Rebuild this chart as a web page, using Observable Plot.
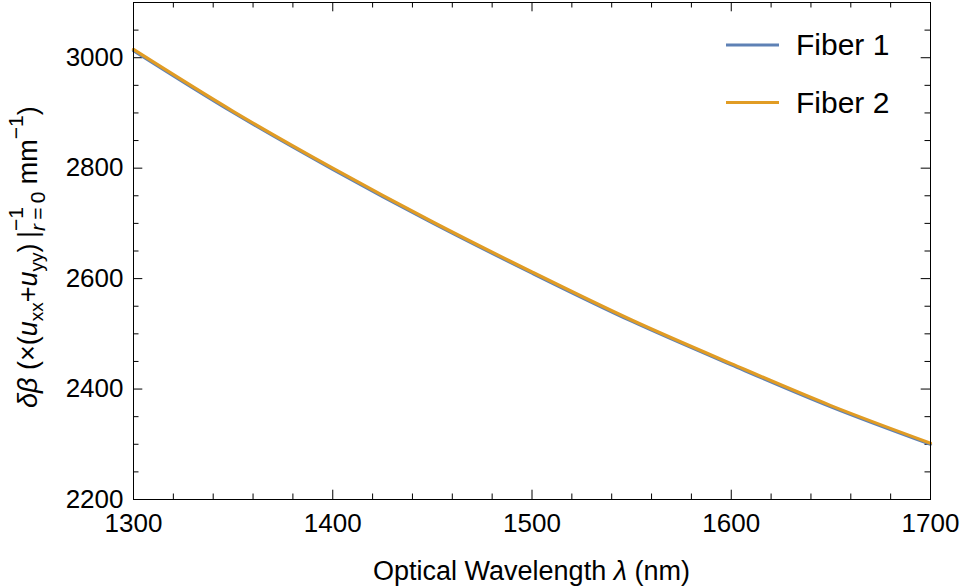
<!DOCTYPE html>
<html><head><meta charset="utf-8">
<script src="https://cdn.jsdelivr.net/npm/d3@7"></script>
<script src="https://cdn.jsdelivr.net/npm/@observablehq/plot@0.6"></script>
<style>body{margin:0;background:#fff;} svg{display:block;}</style>
</head><body><div id="chart"></div>
<script>
// ---- data ----
const wavelengths = [1300, 1350, 1400, 1450, 1500, 1550, 1600, 1650, 1700];
const fiber1 = [3013, 2901, 2798, 2701, 2610, 2523, 2444, 2368, 2300];
const fiber2 = [3015, 2903, 2800, 2703, 2612, 2525, 2446, 2370, 2302];
const seriesNames = ["Fiber 1", "Fiber 2"];
const seriesColors = ["#5e81b5", "#e19c24"];
const xTicks = [1300, 1400, 1500, 1600, 1700];
const xMinorTicks = [1320, 1340, 1360, 1380, 1420, 1440, 1460, 1480, 1520, 1540, 1560, 1580, 1620, 1640, 1660, 1680];
const yTicks = [2200, 2400, 2600, 2800, 3000];
const yMinorTicks = [2250, 2300, 2350, 2450, 2500, 2550, 2650, 2700, 2750, 2850, 2900, 2950, 3050];
const xDomain = [1300, 1700];
const yDomain = [2200, 3100];

const rows = [];
[fiber1, fiber2].forEach((vals, s) => vals.forEach((v, i) => rows.push({wl: wavelengths[i], v, series: seriesNames[s]})));

const W = 960, H = 588, mL = 133, mR = 30, mT = 2, mB = 89;
const fw = W - mL - mR, fh = H - mT - mB;
const major = 9.3, minor = 5.5;
const font = "Liberation Sans, Arial, sans-serif";

const plot = Plot.plot({
  width: W, height: H,
  marginLeft: mL, marginRight: mR, marginTop: mT, marginBottom: mB,
  style: {fontFamily: font, background: "#fff", color: "#000"},
  x: {domain: xDomain},
  y: {domain: yDomain},
  color: {domain: seriesNames, range: seriesColors},
  marks: [
    Plot.axisX({ticks: xTicks, tickSize: 0, tickPadding: 14, fontSize: 26, label: null, tickFormat: d => String(d)}),
    Plot.axisY({ticks: yTicks, tickSize: 0, tickPadding: 10, fontSize: 26, label: null, tickFormat: d => String(d)}),
    // inward frame ticks on all four sides
    Plot.tickX(xTicks, {x: d => d, insetTop: fh - major, stroke: "#000", strokeWidth: 1}),
    Plot.tickX(xTicks, {x: d => d, insetBottom: fh - major, stroke: "#000", strokeWidth: 1}),
    Plot.tickX(xMinorTicks, {x: d => d, insetTop: fh - minor, stroke: "#000", strokeWidth: 1}),
    Plot.tickX(xMinorTicks, {x: d => d, insetBottom: fh - minor, stroke: "#000", strokeWidth: 1}),
    Plot.tickY(yTicks, {y: d => d, insetRight: fw - major, stroke: "#000", strokeWidth: 1}),
    Plot.tickY(yTicks, {y: d => d, insetLeft: fw - major, stroke: "#000", strokeWidth: 1}),
    Plot.tickY(yMinorTicks, {y: d => d, insetRight: fw - minor, stroke: "#000", strokeWidth: 1}),
    Plot.tickY(yMinorTicks, {y: d => d, insetLeft: fw - minor, stroke: "#000", strokeWidth: 1}),
    Plot.line(rows, {x: "wl", y: "v", z: "series", stroke: "series", strokeWidth: 3.2, curve: "catmull-rom"}),
    Plot.frame({stroke: "#000", strokeWidth: 1})
  ]
});

document.getElementById("chart").appendChild(plot);
const svg = d3.select(plot);

// x label
const xl = svg.append("text")
  .attr("x", mL + fw / 2).attr("y", 580)
  .attr("text-anchor", "middle")
  .attr("font-family", font).attr("font-size", 27).attr("fill", "#000");
xl.append("tspan").text("Optical Wavelength ");
xl.append("tspan").attr("font-style", "italic").text("λ");
xl.append("tspan").text(" (nm)");

// y label
const yl = svg.append("text")
  .attr("transform", "translate(37,250) rotate(-90)")
  .attr("x", -158).attr("y", 0)
  .attr("text-anchor", "start")
  .attr("font-family", font).attr("font-size", 27).attr("fill", "#000");
yl.append("tspan").attr("font-style", "italic").text("δβ");
yl.append("tspan").text(" (×(");
yl.append("tspan").attr("font-style", "italic").text("u");
yl.append("tspan").attr("font-size", 19).attr("dy", 6).text("xx");
yl.append("tspan").attr("dy", -6).text("+");
yl.append("tspan").attr("font-style", "italic").text("u");
yl.append("tspan").attr("font-size", 19).attr("dy", 6).text("yy");
yl.append("tspan").attr("dy", -6).text(")\u2009|");
const sup1 = yl.append("tspan").attr("font-size", 21).attr("dy", -14).text("−1");
const supLen = sup1.node().getComputedTextLength();
const sub1 = yl.append("tspan").attr("font-size", 21).attr("dy", 22).attr("dx", -supLen);
sub1.append("tspan").attr("font-style", "italic").text("r");
sub1.append("tspan").text("\u2009=\u20090");
yl.append("tspan").attr("dy", -8).text(" mm");
yl.append("tspan").attr("font-size", 21).attr("dy", -14).text("−1");
yl.append("tspan").attr("dy", 14).text(")");

// legend
const lg = svg.append("g");
seriesNames.forEach((name, i) => {
  const y = 45 + i * 57.5;
  lg.append("line").attr("x1", 726).attr("x2", 779).attr("y1", y).attr("y2", y)
    .attr("stroke", seriesColors[i]).attr("stroke-width", 3.2);
  lg.append("text").attr("x", 796).attr("y", y + 10).attr("font-family", font)
    .attr("text-anchor", "start")
    .attr("font-size", 30).attr("fill", "#000").text(name);
});
</script>
</body></html>
